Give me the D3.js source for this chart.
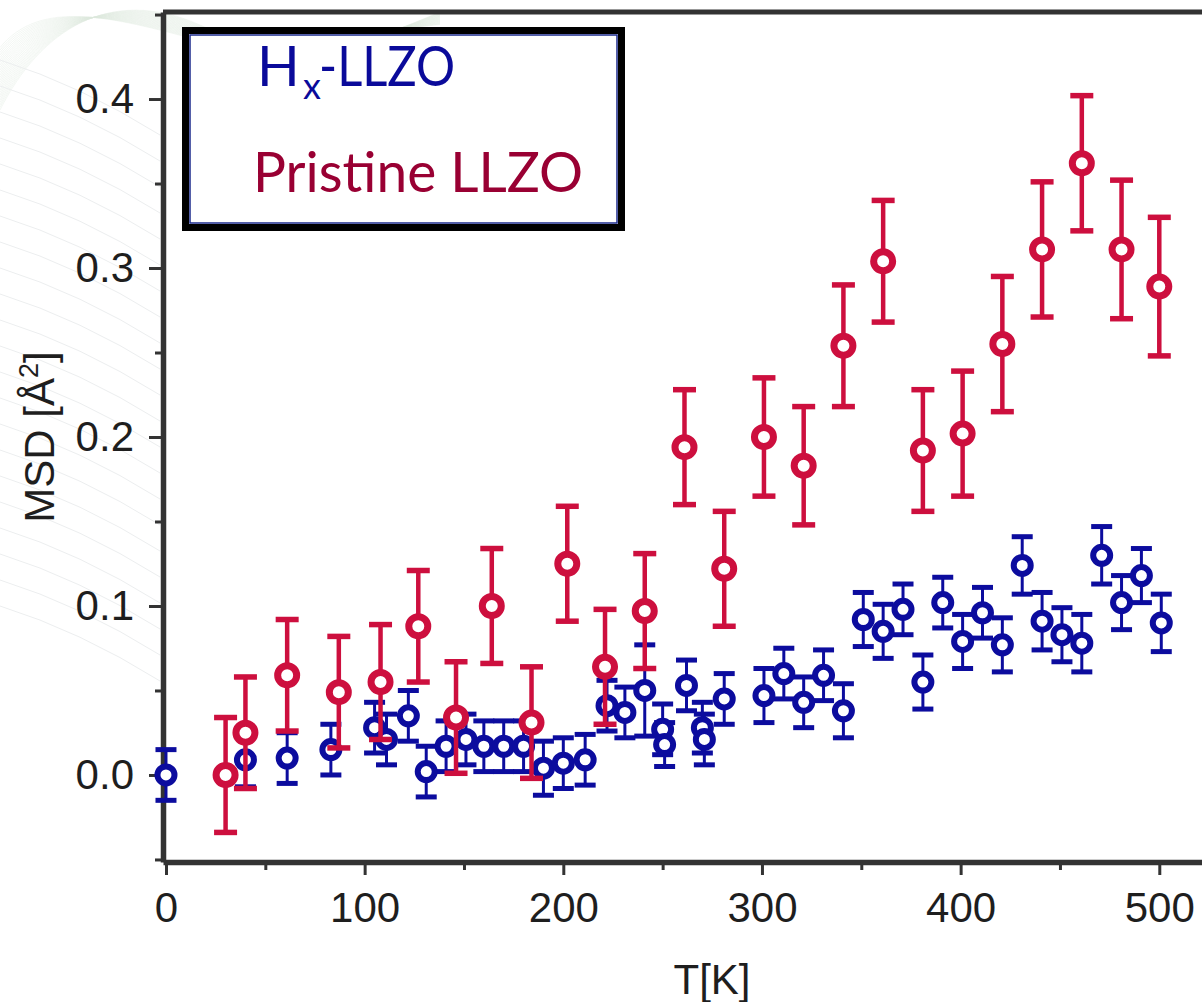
<!DOCTYPE html>
<html>
<head>
<meta charset="utf-8">
<script src="https://cdn.jsdelivr.net/npm/d3@7"></script>
<style>
  html, body { margin: 0; padding: 0; background: #fff; }
  svg { display: block; }
  .axis text { font-family: 'Liberation Sans', Arial, sans-serif; fill: #1e1e1e; }
  .axis path, .axis line { stroke: #333; }
</style>
</head>
<body>
<div id="chart"></div>
<script>
// Hx-LLZO (blue) : temperature [K], MSD [A^2], error
const hxT = [0, 40, 61, 83, 105, 111, 122, 131, 141, 151, 160, 170, 180, 190, 200, 211,
  222, 231, 241, 250, 251, 262, 270, 271, 281, 301, 311, 321, 331, 341, 351, 361, 371,
  381, 391, 401, 411, 421, 431, 441, 451, 461, 471, 481, 491, 501];
const hxMSD = [0.000, 0.009, 0.010, 0.015, 0.028, 0.021, 0.035, 0.002, 0.017, 0.021, 0.017,
  0.017, 0.017, 0.004, 0.007, 0.009, 0.041, 0.037, 0.050, 0.027, 0.018, 0.053, 0.028, 0.021,
  0.045, 0.047, 0.060, 0.043, 0.059, 0.038, 0.092, 0.085, 0.098, 0.055, 0.102, 0.079, 0.096,
  0.077, 0.124, 0.091, 0.083, 0.078, 0.130, 0.102, 0.118, 0.090];
const hxErr = [0.015, 0.016, 0.015, 0.015, 0.015, 0.015, 0.015, 0.015, 0.015, 0.015, 0.015,
  0.015, 0.015, 0.016, 0.015, 0.015, 0.015, 0.015, 0.027, 0.015, 0.013, 0.015, 0.015, 0.015,
  0.015, 0.016, 0.015, 0.015, 0.015, 0.016, 0.016, 0.016, 0.015, 0.016, 0.015, 0.016, 0.015,
  0.016, 0.017, 0.017, 0.016, 0.017, 0.017, 0.016, 0.016, 0.017];

// Pristine LLZO (red)
const prT = [30, 40, 61, 87, 108, 127, 146, 164, 184, 202, 221, 241, 261, 281, 301, 321,
  341, 361, 381, 401, 421, 441, 461, 481, 500];
const prMSD = [0.000, 0.025, 0.059, 0.049, 0.055, 0.088, 0.034, 0.100, 0.031, 0.125, 0.064,
  0.097, 0.194, 0.122, 0.200, 0.183, 0.254, 0.304, 0.192, 0.202, 0.255, 0.311, 0.362, 0.311,
  0.289];
const prErr = [0.034, 0.033, 0.033, 0.033, 0.034, 0.033, 0.033, 0.034, 0.033, 0.034, 0.034,
  0.034, 0.034, 0.034, 0.035, 0.035, 0.036, 0.036, 0.036, 0.037, 0.040, 0.040, 0.040, 0.041,
  0.041];

// ticks
const xTicks = [0, 100, 200, 300, 400, 500];
const xMinor = [50, 150, 250, 350, 450];
const yTicks = [0.0, 0.1, 0.2, 0.3, 0.4];
const yMinor = [-0.05, 0.05, 0.15, 0.25, 0.35, 0.45];

const W = 1202, H = 1002;
const svg = d3.select('#chart').append('svg').attr('width', W).attr('height', H);

// faint background decoration (slide template)
const deco = svg.append('g');
for (let i = 0; i < 26; i++) {
  const a = i * 2.5;
  deco.append('path')
    .attr('d', `M0,${110 - a} C40,${30 - a / 2} 110,${-15 + a / 2} 200,${25 + a / 4} S340,${55 - a / 3} 440,${12 + a / 5}`)
    .attr('fill', 'none').attr('stroke', '#dde8de').attr('stroke-width', 0.7).attr('opacity', 0.5);
}
for (let i = 0; i < 22; i++) {
  const y0 = 60 + i * 26;
  deco.append('path')
    .attr('d', `M0,${y0} Q80,${y0 + 25} 160,${y0 + 75}`)
    .attr('fill', 'none').attr('stroke', '#eceeef').attr('stroke-width', 1);
}

const x = d3.scaleLinear().domain([-1.5, 521.5]).range([163, 1202]);
const y = d3.scaleLinear().domain([-0.0515, 0.4515]).range([862, 12]);

// top frame
svg.append('line')
  .attr('x1', x.range()[0]).attr('x2', x.range()[1])
  .attr('y1', y.range()[1]).attr('y2', y.range()[1])
  .attr('stroke', '#333').attr('stroke-width', 5);

// x axis
const gx = svg.append('g').attr('class', 'axis')
  .attr('transform', `translate(0, ${y.range()[0]})`);
gx.call(d3.axisBottom(x).tickValues(xTicks).tickSize(13).tickSizeOuter(0).tickPadding(17)
  .tickFormat(d3.format('d')));
gx.selectAll('text').style('font-size', '42px');
gx.select('.domain').attr('stroke-width', 5.5);
gx.selectAll('.tick line').attr('stroke-width', 3);
svg.append('g').attr('class', 'axis')
  .attr('transform', `translate(0, ${y.range()[0]})`)
  .call(d3.axisBottom(x).tickValues(xMinor).tickSize(8).tickFormat(''))
  .call(g => g.select('.domain').remove())
  .selectAll('line').attr('stroke-width', 3);

// y axis
const gy = svg.append('g').attr('class', 'axis')
  .attr('transform', `translate(${x.range()[0]}, 0)`);
gy.call(d3.axisLeft(y).tickValues(yTicks).tickSize(14).tickSizeOuter(0).tickPadding(15)
  .tickFormat(d3.format('.1f')));
gy.selectAll('text').style('font-size', '42px');
gy.select('.domain').attr('stroke-width', 5.5);
gy.selectAll('.tick line').attr('stroke-width', 3);
svg.append('g').attr('class', 'axis')
  .attr('transform', `translate(${x.range()[0]}, 0)`)
  .call(d3.axisLeft(y).tickValues(yMinor).tickSize(8).tickFormat(''))
  .call(g => g.select('.domain').remove())
  .selectAll('line').attr('stroke-width', 3);

// axis titles
svg.append('text')
  .attr('x', 712).attr('y', 994)
  .attr('text-anchor', 'middle')
  .style('font-family', "'Liberation Sans', Arial, sans-serif")
  .style('font-size', '42px').style('fill', '#1e1e1e')
  .text('T[K]');

const yl = svg.append('text')
  .attr('transform', 'translate(54, 437) rotate(-90)')
  .attr('text-anchor', 'middle')
  .style('font-family', "'Liberation Sans', Arial, sans-serif")
  .style('font-size', '42px').style('fill', '#1e1e1e');
yl.append('tspan').text('MSD [Å');
yl.append('tspan').attr('dy', -16).style('font-size', '27px').text('2');
yl.append('tspan').attr('dy', 16).text(']');

// series
const blue = '#0c0c9e';
const red = '#cd0f3e';

function drawSeries(T, V, E, color, opt) {
  const g = svg.append('g');
  const pts = T.map((t, i) => ({ t, v: V[i], e: E[i] }));
  const bars = g.selectAll('g.bar').data(pts).join('g').attr('class', 'bar');
  bars.append('line')
    .attr('x1', d => x(d.t)).attr('x2', d => x(d.t))
    .attr('y1', d => y(d.v + d.e)).attr('y2', d => y(d.v - d.e))
    .attr('stroke', color).attr('stroke-width', opt.lw);
  [1, -1].forEach(s => {
    bars.append('line')
      .attr('x1', d => x(d.t) - opt.cap / 2).attr('x2', d => x(d.t) + opt.cap / 2)
      .attr('y1', d => y(d.v + s * d.e)).attr('y2', d => y(d.v + s * d.e))
      .attr('stroke', color).attr('stroke-width', opt.capw);
  });
  g.selectAll('circle').data(pts).join('circle')
    .attr('cx', d => x(d.t)).attr('cy', d => y(d.v))
    .attr('r', opt.r)
    .attr('fill', '#fff').attr('stroke', color).attr('stroke-width', opt.sw);
}

drawSeries(hxT, hxMSD, hxErr, blue, { lw: 3, cap: 21, capw: 5, r: 8.5, sw: 6 });
drawSeries(prT, prMSD, prErr, red, { lw: 4.5, cap: 23, capw: 5.5, r: 9.5, sw: 7 });

// legend
const lg = svg.append('g');
lg.append('rect')
  .attr('x', 185.5).attr('y', 30.5).attr('width', 436).attr('height', 197)
  .attr('fill', '#fff').attr('stroke', '#000').attr('stroke-width', 7);
lg.append('rect')
  .attr('x', 190).attr('y', 35).attr('width', 427).attr('height', 188)
  .attr('fill', 'none').attr('stroke', '#1b2a8c').attr('stroke-width', 1.5);

const legFont = 'Lato, sans-serif';
lg.append('text')
  .attr('x', 257).attr('y', 86)
  .style('font-family', legFont).style('font-size', '56px').style('fill', '#0a0a9a')
  .text('H');
lg.append('text')
  .attr('x', 303).attr('y', 99)
  .style('font-family', legFont).style('font-size', '36px').style('fill', '#0a0a9a')
  .text('x');
lg.append('text')
  .attr('x', 319).attr('y', 86)
  .attr('textLength', 136).attr('lengthAdjust', 'spacingAndGlyphs')
  .style('font-family', legFont).style('font-size', '56px').style('fill', '#0a0a9a')
  .text('-LLZO');

lg.append('text')
  .attr('x', 253).attr('y', 192)
  .attr('textLength', 330).attr('lengthAdjust', 'spacingAndGlyphs')
  .style('font-family', legFont).style('font-size', '56px').style('fill', '#990033')
  .text('Pristine LLZO');
</script>
</body>
</html>
